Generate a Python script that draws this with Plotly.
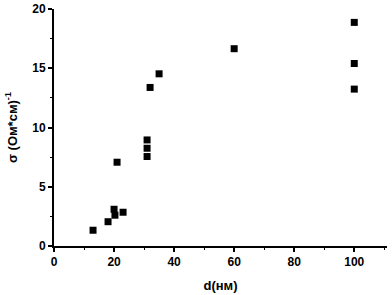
import plotly.graph_objects as go

d_nm = [13, 18, 20, 20.3, 23, 21, 31, 31, 31, 32, 35, 60, 100, 100, 100]
sigma = [1.33, 2.05, 3.1, 2.6, 2.85, 7.07, 7.55, 8.25, 8.95, 13.38, 14.53, 16.65, 18.87, 15.4, 13.24]

x_ticks = [0, 20, 40, 60, 80, 100]
y_ticks = [0, 5, 10, 15, 20]

fig = go.Figure()
fig.add_trace(go.Scatter(
    x=d_nm, y=sigma, mode="markers",
    marker=dict(symbol="square", size=7, color="black", line=dict(width=0)),
    showlegend=False,
))

font = dict(family="Liberation Sans, Arial", size=12, color="black", weight="bold")
tfont = dict(family="Liberation Sans, Arial", size=13, color="black", weight="bold")
fig.update_layout(
    width=392, height=295,
    margin=dict(l=54, r=5, t=9, b=49),
    plot_bgcolor="white", paper_bgcolor="white",
    font=font,
    xaxis=dict(
        range=[0, 110.9], tickvals=x_ticks, showgrid=False, zeroline=False,
        showline=True, linecolor="black", linewidth=2, automargin=False,
        ticks="outside", ticklen=4, tickwidth=2, tickcolor="black",
        minor=dict(dtick=10, ticks="outside", ticklen=2, tickwidth=1, tickcolor="black"),
        tickfont=font,
        title=dict(text="d(нм)", font=tfont, standoff=12),
    ),
    yaxis=dict(
        range=[0, 20], tickvals=y_ticks, showgrid=False, zeroline=False,
        showline=True, linecolor="black", linewidth=2, automargin=False,
        ticks="outside", ticklen=4, tickwidth=2, tickcolor="black",
        minor=dict(dtick=2.5, ticks="outside", ticklen=2, tickwidth=1, tickcolor="black"),
        tickfont=font,
        title=dict(text="σ (Ом*см)<sup>-1</sup>", font=tfont, standoff=12),
    ),
)

fig.write_html("out.html", config={"displayModeBar": False},
               post_script="document.body.style.margin='0';")
